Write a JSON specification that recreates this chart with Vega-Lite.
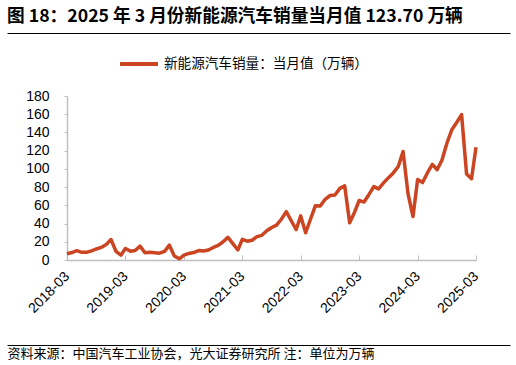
{
  "$schema": "https://vega.github.io/schema/vega-lite/v6.json",
  "width": 503,
  "height": 312,
  "autosize": {"type": "none"},
  "padding": {"left": 7, "top": 33, "right": 6, "bottom": 20},
  "background": "#ffffff",
  "title": {
    "text": "图 18：2025 年 3 月份新能源汽车销量当月值 123.70 万辆",
    "anchor": "start",
    "frame": "group",
    "orient": "top",
    "font": "Noto Sans CJK SC",
    "fontSize": 17.7,
    "fontWeight": "bold",
    "color": "#000000",
    "baseline": "alphabetic",
    "offset": 11,
    "dy": 18
  },
  "data": {
    "values": [
      {"date": "2018-03-01", "value": 6.8},
      {"date": "2018-04-01", "value": 8.2},
      {"date": "2018-05-01", "value": 10.2},
      {"date": "2018-06-01", "value": 8.4},
      {"date": "2018-07-01", "value": 8.4},
      {"date": "2018-08-01", "value": 10.1},
      {"date": "2018-09-01", "value": 12.1},
      {"date": "2018-10-01", "value": 13.8},
      {"date": "2018-11-01", "value": 16.9},
      {"date": "2018-12-01", "value": 22.5},
      {"date": "2019-01-01", "value": 9.6},
      {"date": "2019-02-01", "value": 5.3},
      {"date": "2019-03-01", "value": 12.6},
      {"date": "2019-04-01", "value": 9.7},
      {"date": "2019-05-01", "value": 10.4},
      {"date": "2019-06-01", "value": 15.2},
      {"date": "2019-07-01", "value": 8.0},
      {"date": "2019-08-01", "value": 8.5},
      {"date": "2019-09-01", "value": 8.0},
      {"date": "2019-10-01", "value": 7.5},
      {"date": "2019-11-01", "value": 9.5},
      {"date": "2019-12-01", "value": 16.3},
      {"date": "2020-01-01", "value": 4.4},
      {"date": "2020-02-01", "value": 1.3},
      {"date": "2020-03-01", "value": 5.3},
      {"date": "2020-04-01", "value": 7.2},
      {"date": "2020-05-01", "value": 8.2},
      {"date": "2020-06-01", "value": 10.4},
      {"date": "2020-07-01", "value": 9.8},
      {"date": "2020-08-01", "value": 10.9},
      {"date": "2020-09-01", "value": 13.8},
      {"date": "2020-10-01", "value": 16.0},
      {"date": "2020-11-01", "value": 20.0},
      {"date": "2020-12-01", "value": 24.8},
      {"date": "2021-01-01", "value": 17.9},
      {"date": "2021-02-01", "value": 11.0},
      {"date": "2021-03-01", "value": 22.6},
      {"date": "2021-04-01", "value": 20.6},
      {"date": "2021-05-01", "value": 21.7},
      {"date": "2021-06-01", "value": 25.6},
      {"date": "2021-07-01", "value": 27.1},
      {"date": "2021-08-01", "value": 32.1},
      {"date": "2021-09-01", "value": 35.7},
      {"date": "2021-10-01", "value": 38.3},
      {"date": "2021-11-01", "value": 45.0},
      {"date": "2021-12-01", "value": 53.1},
      {"date": "2022-01-01", "value": 43.1},
      {"date": "2022-02-01", "value": 33.4},
      {"date": "2022-03-01", "value": 48.4},
      {"date": "2022-04-01", "value": 29.9},
      {"date": "2022-05-01", "value": 44.7},
      {"date": "2022-06-01", "value": 59.6},
      {"date": "2022-07-01", "value": 59.3},
      {"date": "2022-08-01", "value": 66.6},
      {"date": "2022-09-01", "value": 70.8},
      {"date": "2022-10-01", "value": 71.4},
      {"date": "2022-11-01", "value": 78.6},
      {"date": "2022-12-01", "value": 81.4},
      {"date": "2023-01-01", "value": 40.8},
      {"date": "2023-02-01", "value": 52.5},
      {"date": "2023-03-01", "value": 65.3},
      {"date": "2023-04-01", "value": 63.6},
      {"date": "2023-05-01", "value": 71.7},
      {"date": "2023-06-01", "value": 80.6},
      {"date": "2023-07-01", "value": 78.0},
      {"date": "2023-08-01", "value": 84.6},
      {"date": "2023-09-01", "value": 90.4},
      {"date": "2023-10-01", "value": 95.6},
      {"date": "2023-11-01", "value": 102.6},
      {"date": "2023-12-01", "value": 119.1},
      {"date": "2024-01-01", "value": 72.9},
      {"date": "2024-02-01", "value": 47.7},
      {"date": "2024-03-01", "value": 88.3},
      {"date": "2024-04-01", "value": 85.0},
      {"date": "2024-05-01", "value": 95.5},
      {"date": "2024-06-01", "value": 104.9},
      {"date": "2024-07-01", "value": 99.1},
      {"date": "2024-08-01", "value": 110.0},
      {"date": "2024-09-01", "value": 128.7},
      {"date": "2024-10-01", "value": 143.0},
      {"date": "2024-11-01", "value": 151.2},
      {"date": "2024-12-01", "value": 159.6},
      {"date": "2025-01-01", "value": 94.4},
      {"date": "2025-02-01", "value": 89.2},
      {"date": "2025-03-01", "value": 123.7}
    ]
  },
  "mark": {"type": "line", "strokeWidth": 3.5, "strokeJoin": "round", "strokeCap": "butt"},
  "encoding": {
    "x": {
      "field": "date",
      "type": "temporal",
      "scale": {
        "type": "utc",
        "domain": [
          {"year": 2018, "month": 3, "date": 1, "utc": true},
          {"year": 2025, "month": 3, "date": 1, "utc": true}
        ],
        "range": [60, 469],
        "nice": false
      },
      "axis": {
        "orient": "bottom",
        "offset": -85,
        "values": [
          {"year": 2018, "month": 3, "date": 1, "utc": true},
          {"year": 2019, "month": 3, "date": 1, "utc": true},
          {"year": 2020, "month": 3, "date": 1, "utc": true},
          {"year": 2021, "month": 3, "date": 1, "utc": true},
          {"year": 2022, "month": 3, "date": 1, "utc": true},
          {"year": 2023, "month": 3, "date": 1, "utc": true},
          {"year": 2024, "month": 3, "date": 1, "utc": true},
          {"year": 2025, "month": 3, "date": 1, "utc": true}
        ],
        "labelExpr": "utcFormat(datum.value, '%Y-%m')",
        "labelAngle": -45,
        "labelAlign": "right",
        "labelBaseline": "middle",
        "labelFont": "Liberation Sans",
        "labelFontSize": 14,
        "labelColor": "#000000",
        "labelPadding": 19,
        "labelOverlap": false,
        "labelFlush": false,
        "domainColor": "#bfbfbf",
        "domainWidth": 1.5,
        "tickColor": "#bfbfbf",
        "tickSize": -5,
        "tickWidth": 1,
        "grid": false,
        "title": "资料来源：中国汽车工业协会，光大证券研究所 注：单位为万辆",
        "titleFont": "Noto Sans CJK SC",
        "titleFontSize": 13,
        "titleFontWeight": "normal",
        "titleColor": "#000000",
        "titleX": 0,
        "titleY": 93,
        "titleAlign": "left",
        "titleBaseline": "middle",
        "titleAngle": 0
      }
    },
    "y": {
      "field": "value",
      "type": "quantitative",
      "scale": {"domain": [0, 180], "range": [227, 63], "nice": false, "zero": true},
      "axis": {
        "orient": "left",
        "offset": -60,
        "values": [0, 20, 40, 60, 80, 100, 120, 140, 160, 180],
        "labelFont": "Liberation Sans",
        "labelFontSize": 14,
        "labelColor": "#000000",
        "labelPadding": 15,
        "domainColor": "#bfbfbf",
        "domainWidth": 1.5,
        "tickColor": "#bfbfbf",
        "tickSize": 3,
        "grid": false,
        "title": null
      }
    },
    "color": {
      "datum": "新能源汽车销量：当月值（万辆）",
      "type": "nominal",
      "scale": {"range": ["#cb4522"]},
      "legend": {
        "orient": "none",
        "legendX": 111,
        "legendY": 10,
        "title": null,
        "symbolType": "stroke",
        "symbolStrokeWidth": 4,
        "symbolSize": 1444,
        "labelFont": "Noto Sans CJK SC",
        "labelFontSize": 13.6,
        "labelColor": "#000000",
        "labelOffset": 4,
        "labelLimit": 0
      }
    }
  },
  "config": {
    "view": {"stroke": "#000000", "strokeWidth": 1, "strokeDash": [503, 312, 503, 312]}
  }
}
